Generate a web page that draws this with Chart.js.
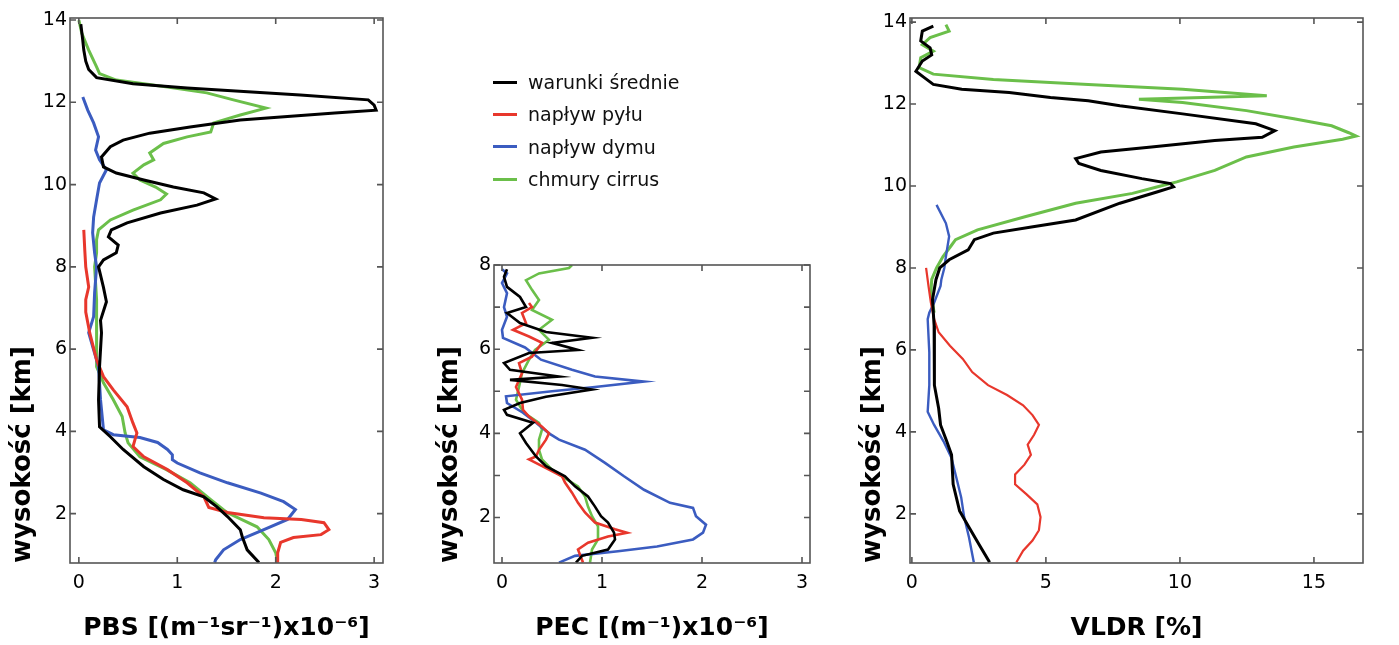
<!DOCTYPE html>
<html>
<head>
<meta charset="utf-8">
<script src="https://cdn.jsdelivr.net/npm/chart.js@4"></script>
<style>
  html, body { margin: 0; padding: 0; background: #fff; }
  body { width: 1399px; height: 645px; position: relative; overflow: hidden; font-family: "DejaVu Sans"; }
  .panel { position: absolute; top: 0; height: 645px; }
  #legend { position: absolute; left: 493px; top: 66px; font-size: 19px; color: #111; z-index: 2; }
  #legend .row { height: 32.3px; display: flex; align-items: center; }
  #legend .sw { width: 24px; height: 3px; margin-right: 11px; }
</style>
</head>
<body>
<div class="panel" style="left:0;width:410px"><canvas id="pbs" width="410" height="645"></canvas></div>
<div class="panel" style="left:420px;width:430px"><canvas id="pec" width="430" height="645"></canvas></div>
<div class="panel" style="left:850px;width:549px"><canvas id="vldr" width="549" height="645"></canvas></div>
<div id="legend"></div>
<script>
/* ============================
   DATA
============================ */
const seriesNames = ["warunki średnie", "napływ pyłu", "napływ dymu", "chmury cirrus"];
const seriesColors = ["#000000", "#e8372c", "#3b5cc0", "#6bbf4a"];

// PBS [(m-1 sr-1) x10-6]
const pbsAltMean = [13.9,13.7,13.5,13.27,13.0,12.8,12.6,12.45,12.35,12.18,12.06,11.93,11.81,11.74,11.57,11.4,11.25,11.08,10.92,10.67,10.43,10.28,10.11,9.94,9.8,9.65,9.5,9.31,9.07,8.9,8.73,8.53,8.34,8.17,8.0,7.5,7.15,6.7,6.4,5.57,4.77,4.11,3.87,3.56,3.14,2.83,2.58,2.41,2.17,1.93,1.61,1.44,1.12,0.81];
const pbsMean    = [0.02,0.03,0.04,0.05,0.07,0.10,0.18,0.55,1.10,2.25,2.94,3.0,3.02,2.6,1.64,1.13,0.72,0.45,0.32,0.23,0.25,0.38,0.66,0.96,1.27,1.39,1.2,0.83,0.49,0.33,0.30,0.40,0.38,0.25,0.20,0.25,0.28,0.22,0.23,0.21,0.20,0.21,0.32,0.45,0.66,0.86,1.06,1.27,1.40,1.51,1.64,1.66,1.71,1.83];
const pbsAltDust = [8.9,8.41,8.0,7.51,7.2,6.9,6.4,5.74,5.33,5.01,4.6,4.2,3.96,3.8,3.63,3.38,3.07,2.75,2.41,2.15,2.03,1.9,1.86,1.78,1.61,1.49,1.42,1.3,1.05,0.81];
const pbsDust    = [0.05,0.06,0.07,0.10,0.07,0.07,0.11,0.18,0.25,0.35,0.49,0.55,0.59,0.57,0.55,0.66,0.90,1.10,1.27,1.32,1.51,1.88,2.26,2.49,2.54,2.46,2.18,2.05,2.02,2.02];
const pbsAltSmoke = [12.13,11.81,11.5,11.16,10.84,10.6,10.36,10.04,9.63,9.21,8.83,8.34,8.0,7.37,6.79,6.4,5.98,5.57,4.77,4.04,3.92,3.85,3.73,3.56,3.43,3.31,3.23,2.99,2.75,2.5,2.29,2.1,1.86,1.61,1.37,1.12,0.88,0.81];
const pbsSmoke    = [0.04,0.09,0.15,0.20,0.17,0.21,0.28,0.21,0.18,0.15,0.14,0.16,0.18,0.16,0.15,0.10,0.15,0.20,0.22,0.25,0.35,0.62,0.80,0.90,0.95,0.95,1.00,1.23,1.51,1.85,2.08,2.20,2.12,1.88,1.64,1.47,1.39,1.38];
const pbsAltCirrus = [14.0,13.68,13.27,12.86,12.7,12.54,12.37,12.23,12.06,11.86,11.69,11.5,11.28,11.16,11.0,10.77,10.6,10.48,10.28,10.11,9.94,9.77,9.63,9.38,9.14,8.9,8.66,8.34,8.0,7.2,6.4,5.57,5.18,4.77,4.36,3.96,3.72,3.38,3.07,2.75,2.34,2.02,1.68,1.37,1.05,0.81];
const pbsCirrus    = [0.0,0.03,0.10,0.18,0.21,0.38,0.90,1.30,1.57,1.90,1.64,1.37,1.34,1.10,0.86,0.72,0.76,0.66,0.55,0.62,0.78,0.89,0.83,0.55,0.32,0.20,0.18,0.18,0.16,0.18,0.18,0.18,0.25,0.35,0.44,0.47,0.50,0.62,0.89,1.13,1.34,1.51,1.81,1.93,2.00,2.02];

// PEC [(m-1) x10-6]
const pecAltMean = [7.9,7.72,7.48,7.24,7.0,6.86,6.62,6.41,6.27,6.15,5.98,5.91,5.67,5.51,5.35,5.27,5.15,5.04,4.87,4.72,4.56,4.44,4.25,4.0,3.77,3.45,3.22,2.98,2.74,2.5,2.26,2.03,1.88,1.64,1.48,1.24,1.09,0.93];
const pecMean    = [0.05,0.02,0.05,0.18,0.24,0.05,0.18,0.44,0.90,0.50,0.76,0.27,0.02,0.08,0.57,0.08,0.60,0.90,0.44,0.18,0.02,0.05,0.31,0.18,0.24,0.34,0.44,0.63,0.73,0.86,0.93,0.99,1.06,1.12,1.13,1.06,0.80,0.74];
const pecAltDust = [7.1,7.0,6.86,6.62,6.46,6.3,6.15,5.82,5.67,5.43,5.1,4.8,4.56,4.4,4.16,4.0,3.85,3.61,3.45,3.38,3.14,2.98,2.83,2.59,2.35,2.12,1.88,1.72,1.64,1.55,1.4,1.24,0.93];
const pecDust    = [0.27,0.30,0.20,0.24,0.11,0.27,0.40,0.30,0.17,0.20,0.14,0.20,0.21,0.27,0.40,0.47,0.44,0.37,0.34,0.27,0.47,0.60,0.63,0.70,0.76,0.83,0.93,1.13,1.25,1.06,0.86,0.76,0.81];
const pecAltSmoke = [7.9,7.8,7.57,7.33,7.0,6.77,6.46,6.27,6.04,5.75,5.51,5.35,5.23,5.1,5.0,4.88,4.72,4.49,4.25,4.0,3.85,3.61,3.3,2.98,2.66,2.35,2.23,2.03,1.83,1.64,1.48,1.31,1.2,1.09,0.93];
const pecSmoke    = [0.0,0.05,0.0,0.05,0.02,0.05,0.0,0.01,0.23,0.39,0.70,0.93,1.42,0.93,0.50,0.04,0.05,0.21,0.34,0.47,0.57,0.83,1.03,1.22,1.42,1.68,1.91,1.94,2.04,2.01,1.91,1.55,1.16,0.73,0.57];
const pecAltCirrus = [8.0,7.93,7.8,7.64,7.41,7.17,6.93,6.7,6.46,6.22,5.98,5.75,5.43,5.1,4.8,4.49,4.25,4.09,3.85,3.61,3.38,3.14,2.98,2.74,2.5,2.26,2.03,1.79,1.48,1.24,0.93];
const pecCirrus    = [0.70,0.67,0.37,0.24,0.30,0.37,0.30,0.50,0.37,0.47,0.33,0.27,0.20,0.17,0.14,0.22,0.37,0.40,0.37,0.37,0.40,0.50,0.60,0.76,0.83,0.86,0.90,0.96,0.96,0.90,0.88];

// VLDR [%]
const vldrAltMean = [13.9,13.78,13.54,13.37,13.2,13.05,12.8,12.65,12.48,12.36,12.28,12.16,12.08,11.96,11.76,11.52,11.35,11.19,11.11,10.95,10.83,10.67,10.55,10.38,10.18,10.06,9.98,9.86,9.58,9.17,9.0,8.85,8.69,8.44,8.2,8.0,7.72,7.23,6.59,5.94,5.14,4.57,4.17,3.77,3.44,2.72,2.07,1.67,1.27,0.82];
const vldrMean    = [0.8,0.39,0.33,0.68,0.74,0.39,0.15,0.45,0.8,1.86,3.63,5.17,6.58,7.76,10.1,12.83,13.54,13.07,11.3,8.94,7.05,6.11,6.23,7.05,8.58,9.65,9.76,9.17,7.76,6.11,4.46,3.04,2.33,2.1,1.39,1.04,0.9,0.77,0.83,0.83,0.85,1.0,1.07,1.3,1.48,1.54,1.78,2.13,2.49,2.9];
const vldrAltDust = [8.0,7.56,7.15,6.75,6.43,6.1,5.78,5.46,5.14,4.9,4.65,4.41,4.17,3.93,3.69,3.44,3.2,2.96,2.72,2.48,2.23,1.92,1.6,1.35,1.1,0.82];
const vldrDust    = [0.53,0.62,0.71,0.83,1.0,1.42,1.9,2.25,2.84,3.55,4.15,4.5,4.74,4.56,4.32,4.44,4.2,3.85,3.85,4.27,4.68,4.8,4.74,4.5,4.15,3.9];
const vldrAltSmoke = [9.54,9.09,8.77,8.28,8.0,7.72,7.56,7.15,6.91,6.75,5.94,5.14,4.49,4.17,3.77,3.36,2.88,2.4,1.92,1.43,0.82];
const vldrSmoke    = [0.92,1.27,1.39,1.27,1.21,1.1,1.07,0.83,0.65,0.59,0.65,0.65,0.59,0.83,1.18,1.48,1.66,1.84,1.95,2.13,2.31];
const vldrAltCirrus = [13.94,13.78,13.62,13.45,13.29,13.13,12.89,12.73,12.6,12.48,12.36,12.2,12.12,12.04,11.84,11.64,11.47,11.3,11.22,11.14,10.95,10.71,10.38,10.1,9.98,9.82,9.58,9.25,8.93,8.69,8.53,8.28,8.0,7.72,7.4,6.91];
const vldrCirrus    = [1.27,1.39,0.68,0.39,0.8,0.33,0.27,0.8,3.04,6.58,10.1,13.24,8.47,10.1,12.48,14.25,15.66,16.3,16.57,16.07,14.25,12.48,11.3,9.88,9.17,8.23,6.11,4.22,2.45,1.63,1.45,1.16,0.92,0.74,0.71,0.83];

// tick values
const pbsXTicks = [0, 1, 2, 3];
const pecXTicks = [0, 1, 2, 3];
const vldrXTicks = [0, 5, 10, 15];
const altTicks = [2, 4, 6, 8, 10, 12, 14];
const pecAltTicks = [2, 3, 4, 5, 6, 7, 8];

/* ============================
   HELPERS
============================ */
Chart.defaults.font.family = "DejaVu Sans";
Chart.defaults.color = "#000";

const pts = (alt, val) => alt.map((a, i) => ({ x: val[i], y: a }));

// frame + inward ticks on all four sides
const frameTicks = {
    id: "frameTicks",
    afterDatasetsDraw(chart) {
        const { ctx, chartArea: a, scales: { x, y } } = chart;
        const len = 6;
        ctx.save();
        ctx.strokeStyle = "#555";
        ctx.lineWidth = 1.6;
        ctx.beginPath();
        x.ticks.forEach(t => {
            const px = x.getPixelForValue(t.value);
            ctx.moveTo(px, a.bottom); ctx.lineTo(px, a.bottom - len);
            ctx.moveTo(px, a.top); ctx.lineTo(px, a.top + len);
        });
        y.ticks.forEach(t => {
            const py = y.getPixelForValue(t.value);
            ctx.moveTo(a.left, py); ctx.lineTo(a.left + len, py);
            ctx.moveTo(a.right, py); ctx.lineTo(a.right - len, py);
        });
        ctx.stroke();
        ctx.strokeRect(a.left, a.top, a.right - a.left, a.bottom - a.top);
        ctx.restore();
    }
};

function makePanel(id, cfg) {
    const datasets = cfg.series.map((s, i) => ({
        label: seriesNames[i],
        data: pts(s[0], s[1]),
        showLine: true,
        borderColor: seriesColors[i],
        borderWidth: cfg.widths[i],
        pointRadius: 0,
        tension: 0,
        fill: false
    }));

    return new Chart(document.getElementById(id), {
        type: "scatter",
        data: { datasets },
        plugins: [frameTicks],
        options: {
            responsive: false,
            animation: false,
            devicePixelRatio: 1,
            layout: { padding: { top: cfg.padTop, right: cfg.padRight, left: 0, bottom: 0 } },
            plugins: { legend: { display: false }, tooltip: { enabled: false } },
            scales: {
                x: {
                    type: "linear",
                    min: cfg.xMin, max: cfg.xMax,
                    afterBuildTicks: s => { s.ticks = cfg.xTicks.map(v => ({ value: v })); },
                    afterFit: s => { s.height = 82; },
                    grid: { display: false, drawTicks: false },
                    border: { display: false },
                    ticks: { font: { size: 19 }, padding: 9, color: "#000" },
                    title: {
                        display: true, text: cfg.xTitle, color: "#000",
                        font: { size: 25, weight: "bold" },
                        padding: { top: 0, bottom: 2 }
                    }
                },
                y: {
                    type: "linear",
                    min: cfg.yMin, max: cfg.yMax,
                    afterBuildTicks: s => { s.ticks = cfg.yTicks.map(v => ({ value: v })); },
                    afterFit: s => { s.width = cfg.yWidth; },
                    grid: { display: false, drawTicks: false },
                    border: { display: false },
                    ticks: {
                        font: { size: 19 }, padding: 3, color: "#000",
                        callback: v => (v % 2 === 0 ? v : "")
                    },
                    title: {
                        display: true, text: "wysokość [km]", color: "#000",
                        align: "start",
                        font: { size: 26, weight: "bold" },
                        padding: { top: cfg.yTitlePad, bottom: 0 }
                    }
                }
            }
        }
    });
}

/* ============================
   PANELS
============================ */
makePanel("pbs", {
    series: [[pbsAltMean, pbsMean], [pbsAltDust, pbsDust], [pbsAltSmoke, pbsSmoke], [pbsAltCirrus, pbsCirrus]],
    widths: [3, 3, 3, 3],
    xMin: -0.09, xMax: 3.09, yMin: 0.8, yMax: 14.05,
    xTicks: pbsXTicks, yTicks: altTicks,
    xTitle: "PBS [(m⁻¹sr⁻¹)x10⁻⁶]",
    padTop: 18, padRight: 27, yWidth: 70, yTitlePad: 8
});

makePanel("pec", {
    series: [[pecAltMean, pecMean], [pecAltDust, pecDust], [pecAltSmoke, pecSmoke], [pecAltCirrus, pecCirrus]],
    widths: [2.6, 2.6, 2.6, 2.6],
    xMin: -0.08, xMax: 3.08, yMin: 0.92, yMax: 8.0,
    xTicks: pecXTicks, yTicks: pecAltTicks,
    xTitle: "PEC [(m⁻¹)x10⁻⁶]",
    padTop: 265, padRight: 40, yWidth: 74, yTitlePad: 15
});

makePanel("vldr", {
    series: [[vldrAltMean, vldrMean], [vldrAltDust, vldrDust], [vldrAltSmoke, vldrSmoke], [vldrAltCirrus, vldrCirrus]],
    widths: [3, 2.2, 2.4, 3],
    xMin: -0.07, xMax: 16.83, yMin: 0.8, yMax: 14.1,
    xTicks: vldrXTicks, yTicks: altTicks,
    xTitle: "VLDR [%]",
    padTop: 18, padRight: 36, yWidth: 60, yTitlePad: 8
});

/* ============================
   LEGEND
============================ */
const legend = document.getElementById("legend");
seriesNames.forEach((name, i) => {
    const row = document.createElement("div");
    row.className = "row";
    row.innerHTML = `<span class="sw" style="background:${seriesColors[i]}"></span><span>${name}</span>`;
    legend.appendChild(row);
});
</script>
</body>
</html>
